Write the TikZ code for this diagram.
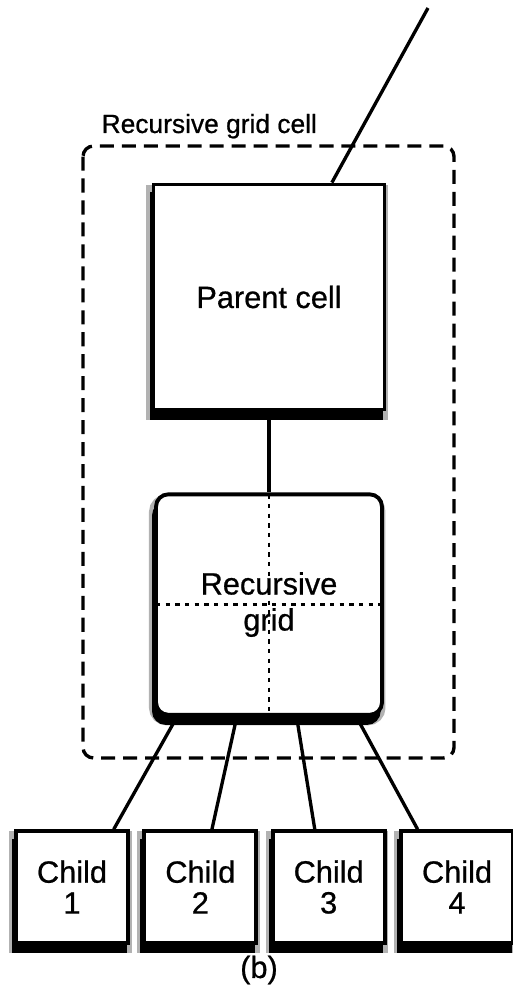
\documentclass[tikz,border=0pt]{standalone}
\usepackage{fontspec}
\setmainfont{Liberation Sans}[FakeBold=0.7]
\usetikzlibrary{positioning,calc,shadows}

\begin{document}
\begin{tikzpicture}[x=0.02cm, y=-0.02cm, line width=1.9pt, every node/.style={align=center},
  cellbox/.style={draw, line width=2.2pt, fill=white, font=\fontsize{17.5}{20.5}\selectfont,
    general shadow={fill=gray!60, draw=gray!60, line width=6pt, shadow xshift=-1pt, shadow yshift=-3pt},
    general shadow={fill=black, draw=black, line width=1.5pt, shadow xshift=-1.5pt, shadow yshift=-5pt}},
  childbox/.style={cellbox, minimum width=2.24cm, minimum height=2.23cm, font=\fontsize{17.5}{17.6}\selectfont},
  gridline/.style={line width=1.4pt, dash pattern=on 2.5pt off 3pt},
  cellborder/.style={line width=1.9pt, dash pattern=on 8pt off 4.5pt, rounded corners=6pt}]
\useasboundingbox (0,0) rectangle (513,999);
\draw[cellborder] (83,146) rectangle (454,758);
\node[anchor=base west, inner sep=0pt, font=\fontsize{15}{18}\selectfont] (title) at (100,133) {Recursive grid cell};
\node[cellbox, minimum width=4.62cm, minimum height=4.5cm] (parent) at (269,297) {Parent cell};
\node[cellbox, rounded corners=7pt, minimum width=4.52cm, minimum height=4.41cm, below=1.62cm of parent,
  path picture={\draw[gridline] (path picture bounding box.north) -- (path picture bounding box.south);
    \draw[gridline] (path picture bounding box.west) -- (path picture bounding box.east);}] (grid) {Recursive\\grid};
\node[childbox] (c1) at (72,887) {Child\\1};
\node[childbox, right=0.25cm of c1] (c2) {Child\\2};
\node[childbox, right=0.25cm of c2] (c3) {Child\\3};
\node[childbox, right=0.25cm of c3] (c4) {Child\\4};
\node[font=\fontsize{17.5}{20}\selectfont] (caption) at (259,970) {(b)};
\coordinate (up) at (428,8);
\draw (up) -- (parent); \draw (parent) -- (grid);
\draw ($(grid.south west)!0.1!(grid.south east)$) -- ($(c1.north west)!0.86!(c1.north east)$);
\draw ($(grid.south west)!0.36!(grid.south east)$) -- ($(c2.north west)!0.6!(c2.north east)$);
\draw ($(grid.south west)!0.62!(grid.south east)$) -- ($(c3.north west)!0.38!(c3.north east)$);
\draw ($(grid.south west)!0.88!(grid.south east)$) -- ($(c4.north west)!0.16!(c4.north east)$);
\end{tikzpicture}
\end{document}
